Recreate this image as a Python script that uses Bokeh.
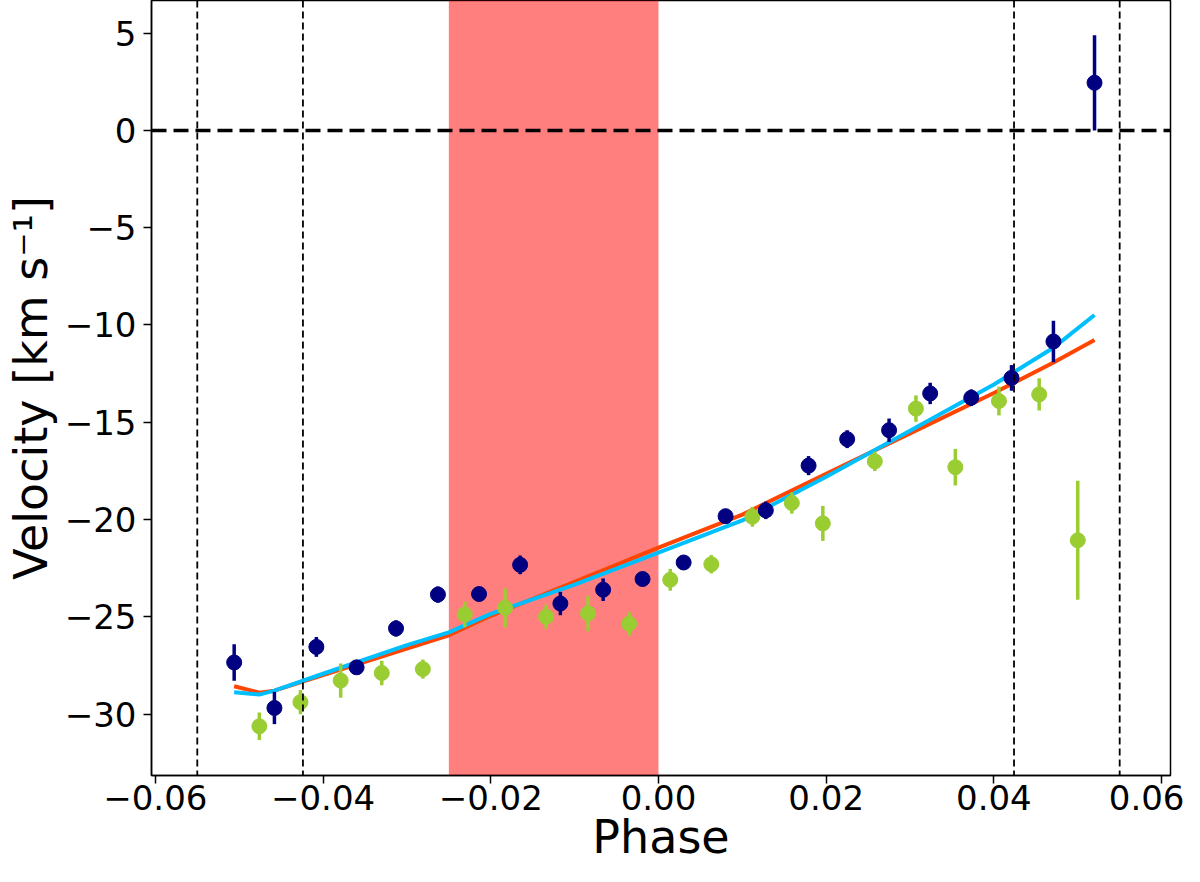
from bokeh.plotting import figure
from bokeh.models import Span, BoxAnnotation, FixedTicker, Range1d
from bokeh.embed import file_html
from bokeh.resources import INLINE
import numpy as np

# ---- data ----
navy_phase = [-0.0506, -0.0458, -0.0408, -0.0360, -0.0313, -0.0263, -0.0214, -0.0165,
              -0.0117, -0.0066, -0.0019, 0.0030, 0.0080, 0.0128, 0.0179, 0.0225,
              0.0275, 0.0324, 0.0373, 0.0421, 0.0471, 0.0520]
navy_vel = [-27.35, -29.69, -26.55, -27.60, -25.60, -23.86, -23.83, -22.33,
            -24.32, -23.61, -23.06, -22.21, -19.83, -19.53, -17.23, -15.87,
            -15.41, -13.52, -13.74, -12.72, -10.85, 2.45]
navy_err = [0.94, 0.83, 0.51, 0.30, 0.42, 0.42, 0.30, 0.48,
            0.60, 0.58, 0.30, 0.30, 0.30, 0.45, 0.49, 0.46,
            0.60, 0.55, 0.43, 0.66, 1.07, 2.45]

green_phase = [-0.0476, -0.0427, -0.0379, -0.0330, -0.0281, -0.0231, -0.0183, -0.0134,
               -0.0084, -0.0035, 0.0014, 0.0063, 0.0112, 0.0159, 0.0196, 0.0258,
               0.0307, 0.0354, 0.0406, 0.0454, 0.0500]
green_vel = [-30.63, -29.39, -28.28, -27.89, -27.69, -24.88, -24.54, -25.00,
             -24.83, -25.36, -23.10, -22.30, -19.86, -19.15, -20.20, -17.01,
             -14.30, -17.31, -13.91, -13.57, -21.07]
green_err = [0.71, 0.62, 0.88, 0.63, 0.49, 0.66, 1.00, 0.62,
             0.91, 0.60, 0.56, 0.47, 0.51, 0.55, 0.90, 0.50,
             0.68, 0.94, 0.74, 0.83, 3.06]

model_phase = [-0.0506, -0.0476, -0.0458, -0.040, -0.030, -0.025, -0.020, -0.010,
               0.000, 0.010, 0.020, 0.030, 0.040, 0.047, 0.052]
model_orange = [-28.57, -28.90, -28.80, -28.00, -26.63, -25.95, -24.95, -23.20,
                -21.45, -19.75, -17.65, -15.57, -13.50, -11.95, -10.77]
model_blue = [-28.88, -29.00, -28.80, -27.93, -26.46, -25.80, -24.85, -23.35,
              -21.70, -20.05, -17.80, -15.44, -13.06, -11.20, -9.49]

band = [-0.025, 0.0]
contact_lines = [-0.055, -0.0424, 0.0424, 0.055]

x_ticks = [-0.06, -0.04, -0.02, 0.0, 0.02, 0.04, 0.06]
x_tick_labels = ["\u22120.06", "\u22120.04", "\u22120.02", "0.00", "0.02", "0.04", "0.06"]
y_ticks = [5, 0, -5, -10, -15, -20, -25, -30]
y_tick_labels = ["5", "0", "\u22125", "\u221210", "\u221215", "\u221220", "\u221225", "\u221230"]

# ---- figure ----
p = figure(width=1184, height=866, output_backend="svg", toolbar_location=None,
           x_range=Range1d(-0.06046, 0.06106), y_range=Range1d(-33.16, 6.68),
           min_border_left=143, min_border_right=14, min_border_top=0, min_border_bottom=60)
p.grid.visible = False
p.background_fill_color = "white"
p.outline_line_color = "black"
p.outline_line_width = 1.5
p.outline_line_alpha = 1.0

p.add_layout(BoxAnnotation(left=band[0], right=band[1], fill_color="red",
                           fill_alpha=0.5, line_color=None, level="underlay"))
for c in contact_lines:
    p.add_layout(Span(location=c, dimension="height", line_color="black",
                      line_width=1.8, line_dash="7 4"))
p.add_layout(Span(location=0, dimension="width", line_color="black",
                  line_width=3.5, line_dash="15 7"))

p.line(model_phase, model_orange, line_color="#FF4500", line_width=4)
p.line(model_phase, model_blue, line_color="#00BFFF", line_width=4)

nv = np.array(navy_vel); ne = np.array(navy_err)
gv = np.array(green_vel); ge = np.array(green_err)
p.segment(x0=green_phase, y0=gv - ge, x1=green_phase, y1=gv + ge,
          line_color="#9ACD32", line_width=3.5)
p.scatter(green_phase, green_vel, size=15, fill_color="#9ACD32", line_color="#9ACD32")
p.segment(x0=navy_phase, y0=nv - ne, x1=navy_phase, y1=nv + ne,
          line_color="#000080", line_width=3.5)
p.scatter(navy_phase, navy_vel, size=15, fill_color="#000080", line_color="#000080")

# ---- axes ----
p.xaxis.ticker = FixedTicker(ticks=x_ticks)
p.xaxis.major_label_overrides = dict(zip(x_ticks, x_tick_labels))
p.yaxis.ticker = FixedTicker(ticks=y_ticks)
p.yaxis.major_label_overrides = dict(zip(y_ticks, y_tick_labels))
p.xaxis.axis_label = "Phase"
p.yaxis.axis_label = "Velocity [km s\u207b\u00b9]"
for ax in (p.xaxis, p.yaxis):
    ax.axis_label_text_font = "DejaVu Sans"
    ax.axis_label_text_font_size = "46px"
    ax.axis_label_text_font_style = "normal"
    ax.axis_label_text_color = "black"
    ax.major_label_text_font = "DejaVu Sans"
    ax.major_label_text_font_size = "34px"
    ax.major_label_text_color = "black"
    ax.axis_line_color = "black"
    ax.axis_line_width = 1.5
    ax.major_tick_line_color = "black"
    ax.major_tick_line_width = 1.5
    ax.major_tick_out = 8
    ax.major_tick_in = 0
    ax.minor_tick_line_color = None
p.xaxis.major_label_standoff = 1
p.xaxis.axis_label_standoff = -3
p.yaxis.major_label_standoff = 7
p.yaxis.axis_label_standoff = 4

open("out.html", "w").write(file_html(p, INLINE))
